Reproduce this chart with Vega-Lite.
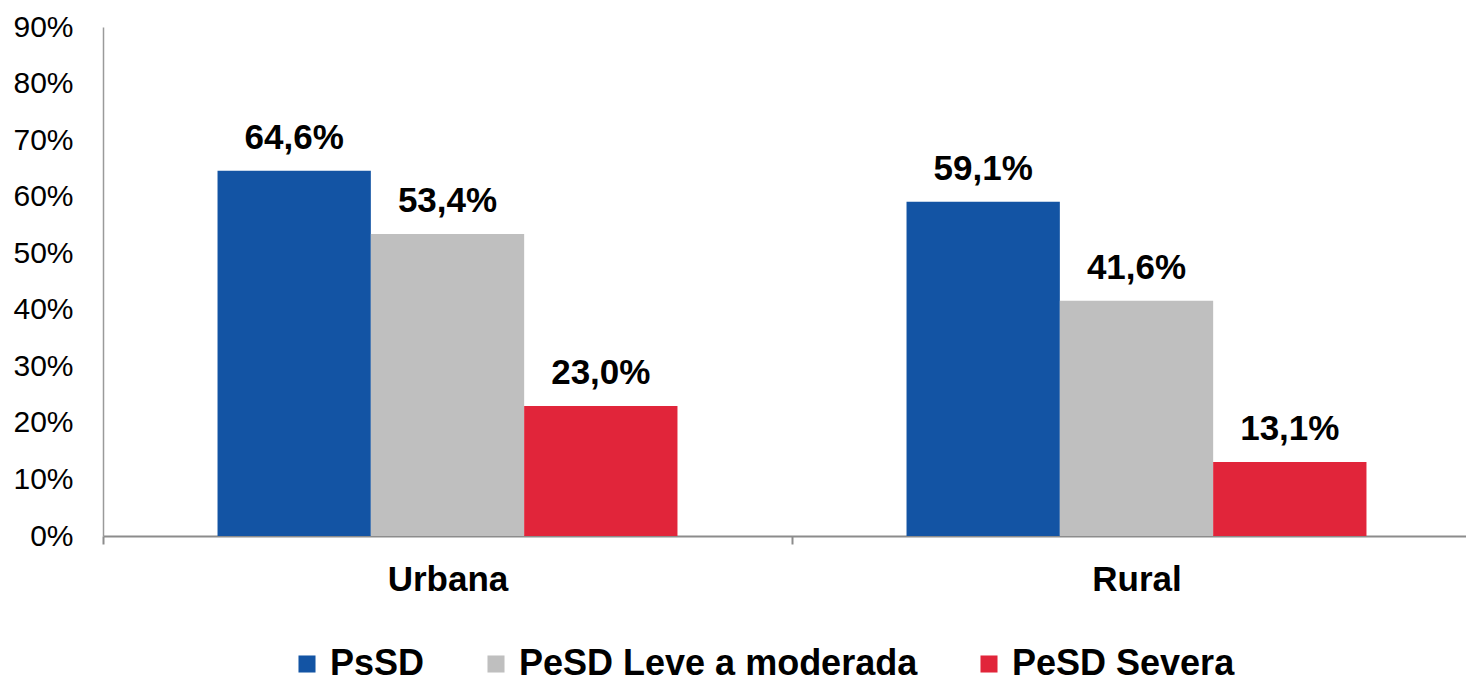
{
  "$schema": "https://vega.github.io/schema/vega-lite/v6.json",
  "width": 1363,
  "height": 509,
  "autosize": {"type": "none"},
  "padding": {"left": 103, "top": 27, "right": 0, "bottom": 148},
  "data": {
    "values": [
      {"area": "Urbana", "serie": "PsSD", "valor": 0.646},
      {"area": "Urbana", "serie": "PeSD Leve a moderada", "valor": 0.534},
      {"area": "Urbana", "serie": "PeSD Severa", "valor": 0.230},
      {"area": "Rural", "serie": "PsSD", "valor": 0.591},
      {"area": "Rural", "serie": "PeSD Leve a moderada", "valor": 0.416},
      {"area": "Rural", "serie": "PeSD Severa", "valor": 0.131}
    ]
  },
  "encoding": {
    "x": {
      "field": "area",
      "type": "nominal",
      "sort": ["Urbana", "Rural"],
      "scale": {"range": [0, 1378], "paddingInner": 0, "paddingOuter": 0},
      "axis": {
        "title": null,
        "labelAngle": 0,
        "labelFont": "Liberation Sans",
        "labelFontSize": 35,
        "labelFontWeight": "bold",
        "labelColor": "#000000",
        "labelPadding": 18,
        "tickBand": "extent",
        "tickSize": 8,
        "tickWidth": 2,
        "tickColor": "#8c8c8c",
        "domainColor": "#8c8c8c",
        "domainWidth": 2,
        "grid": false
      }
    },
    "xOffset": {
      "field": "serie",
      "type": "nominal",
      "sort": ["PsSD", "PeSD Leve a moderada", "PeSD Severa"],
      "scale": {"paddingInner": 0, "paddingOuter": 0.747}
    },
    "y": {
      "field": "valor",
      "type": "quantitative",
      "scale": {"domain": [0, 0.9], "nice": false},
      "axis": {
        "title": null,
        "format": ".0%",
        "values": [0, 0.1, 0.2, 0.3, 0.4, 0.5, 0.6, 0.7, 0.8, 0.9],
        "ticks": false,
        "labelPadding": 30,
        "labelFont": "Liberation Sans",
        "labelFontSize": 30,
        "labelColor": "#000000",
        "domainColor": "#9a9a9a",
        "domainWidth": 1.5,
        "grid": false
      }
    }
  },
  "layer": [
    {
      "mark": {"type": "bar"},
      "encoding": {
        "color": {
          "field": "serie",
          "type": "nominal",
          "sort": ["PsSD", "PeSD Leve a moderada", "PeSD Severa"],
          "scale": {
            "domain": ["PsSD", "PeSD Leve a moderada", "PeSD Severa"],
            "range": ["#1354a4", "#bfbfbf", "#e1253a"]
          },
          "legend": {
            "title": null,
            "orient": "none",
            "legendX": 186,
            "legendY": 619,
            "direction": "horizontal",
            "symbolType": "square",
            "symbolSize": 290,
            "symbolStrokeWidth": 0,
            "labelFont": "Liberation Sans",
            "labelFontSize": 36,
            "labelFontWeight": "bold",
            "labelColor": "#000000",
            "labelOffset": 5,
            "columnPadding": 53,
            "labelLimit": 1000
          }
        }
      }
    },
    {
      "mark": {
        "type": "text",
        "dy": -22,
        "baseline": "alphabetic",
        "font": "Liberation Sans",
        "fontSize": 35,
        "fontWeight": "bold",
        "color": "#000000"
      },
      "encoding": {
        "text": {"field": "valor", "type": "quantitative", "format": ".1%"}
      }
    }
  ],
  "config": {
    "view": {"stroke": null},
    "locale": {
      "number": {
        "decimal": ",",
        "thousands": ".",
        "grouping": [3],
        "currency": ["", ""]
      }
    }
  }
}
